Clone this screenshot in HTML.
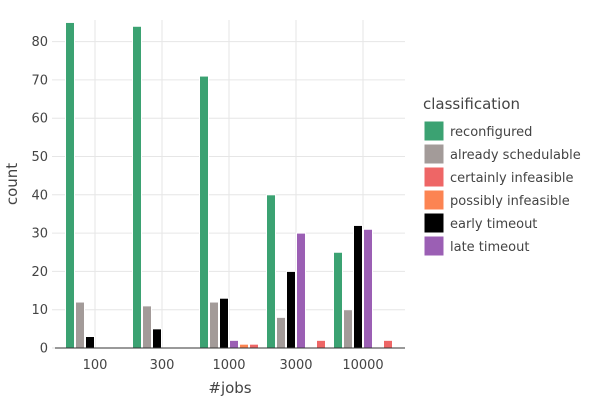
<!DOCTYPE html>
<html><head><meta charset="utf-8"><style>
body{margin:0;background:#fff;font-family:"DejaVu Sans","Liberation Sans",sans-serif;}
</style></head><body>
<svg width="600" height="400" xmlns="http://www.w3.org/2000/svg" id="chart" style="font-family:'DejaVu Sans','Liberation Sans',sans-serif">
<g id="grid"></g><g id="bars"></g><g id="axes"></g><g id="legend"></g>
</svg>
<script>
const categories=["100","300","1000","3000","10000"];
const seriesNames=["reconfigured","already schedulable","early timeout","late timeout","possibly infeasible","certainly infeasible"];
const reconfigured=[85,84,71,40,25];
const alreadySchedulable=[12,11,12,8,10];
const earlyTimeout=[3,5,13,20,32];
const lateTimeout=[0,0,2,30,31];
const possiblyInfeasible=[0,0,1,0,0];
const certainlyInfeasible=[0,0,1,2,2];
const yTicks=[0,10,20,30,40,50,60,70,80];
const legendNames=["reconfigured","already schedulable","certainly infeasible","possibly infeasible","early timeout","late timeout"];
const colors={"reconfigured":"#3ba272","already schedulable":"#a39b99","certainly infeasible":"#ee6666","possibly infeasible":"#fc8452","early timeout":"#000000","late timeout":"#9b5fb4"};
const seriesData=[reconfigured,alreadySchedulable,earlyTimeout,lateTimeout,possiblyInfeasible,certainlyInfeasible];
const NS="http://www.w3.org/2000/svg";
const x0=55,x1=405,yZero=348,yScale=3.83;
const y=v=>yZero-v*yScale;
const groupW=67,firstC=95,slot=10;
const xc=i=>firstC+i*groupW;
function mk(tag,attrs,parent,txt){const e=document.createElementNS(NS,tag);for(const k in attrs)e.setAttribute(k,attrs[k]);if(txt!==undefined)e.textContent=txt;parent.appendChild(e);return e;}
const grid=document.getElementById('grid'),bars=document.getElementById('bars'),axes=document.getElementById('axes'),leg=document.getElementById('legend');
yTicks.forEach(t=>{
  const l=mk('line',{x1:52,x2:x1,y1:y(t),y2:y(t),stroke:'#e6e6e6','stroke-width':1},grid);
  
  
  const tx=mk('text',{x:48,y:y(t)+4.5,'text-anchor':'end','font-size':13,fill:'#444'},axes,t);
  
  
});
categories.forEach((c,i)=>{
  const l=mk('line',{x1:xc(i),x2:xc(i),y1:20,y2:yZero,stroke:'#e6e6e6','stroke-width':1},grid);
  
  
  const tx=mk('text',{x:xc(i),y:yZero+21,'text-anchor':'middle','font-size':13,fill:'#444'},axes,c);
  
  
  seriesData.forEach((arr,s)=>{
    const v=arr[i];if(v<=0)return;
    const bx=xc(i)-30+s*slot;
    const r=mk('rect',{x:bx+0.5,y:y(v),width:slot-1,height:v*yScale,fill:colors[seriesNames[s]],stroke:'#fff','stroke-width':1},bars);
    
    
  });
});
const ax=mk('line',{x1:x0,x2:x1,y1:yZero,y2:yZero,stroke:'#333','stroke-width':1},axes);


const yt=mk('text',{x:17,y:184,'text-anchor':'middle','font-size':15,fill:'#444',transform:'rotate(-90 17 184)'},axes,'count');


const xt=mk('text',{x:230,y:393,'text-anchor':'middle','font-size':15,fill:'#444'},axes,'#jobs');


const lt=mk('text',{x:423,y:109,'font-size':15,fill:'#444'},leg,'classification');


legendNames.forEach((n,k)=>{
  const g=mk('g',{},leg);
  
  
  mk('rect',{x:424,y:121+k*23,width:20,height:20,fill:colors[n],stroke:'#fff','stroke-width':1},g);
  mk('text',{x:450,y:136+k*23,'font-size':13,fill:'#444'},g,n);
});
</script>
</body></html>
